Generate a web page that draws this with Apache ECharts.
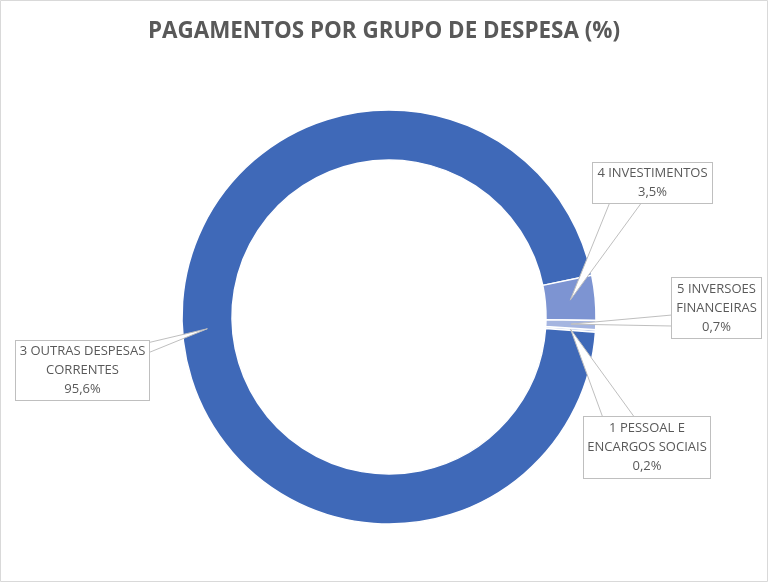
<!DOCTYPE html>
<html>
<head>
<meta charset="utf-8">
<script src="https://cdn.jsdelivr.net/npm/echarts@6/dist/echarts.min.js"></script>
<style>
html,body{margin:0;padding:0;background:#fff;}
#chart{width:768px;height:582px;}
</style>
</head>
<body>
<div id="chart"></div>
<script>
// ---- data ----
const categories = ['1 PESSOAL E\nENCARGOS SOCIAIS', '3 OUTRAS DESPESAS\nCORRENTES', '4 INVESTIMENTOS', '5 INVERSOES\nFINANCEIRAS'];
const values = [0.2, 95.6, 3.5, 0.7];
const titleText = 'PAGAMENTOS POR GRUPO DE DESPESA (%)';

// ---- styles / layout ----
const colors = ['#C3CEEC', '#3F69B8', '#7D94D2', '#A5B5E0'];
const CX = 389, CY = 317, R_IN = 157, R_OUT = 207;
// label box centre, size, and callout base (relative to box centre)
const boxes = [
  {cx: 647, cy: 447.5, w: 128, h: 61, lines: 3, base: [[-44, -29.5], [-12, -29.5]]},
  {cx: 82.5, cy: 370.5, w: 135, h: 59, lines: 3, base: [[66.5, -28], [66.5, -18]]},
  {cx: 652.5, cy: 183, w: 121, h: 40, lines: 2, base: [[-42.5, 19], [-10.5, 19]]},
  {cx: 716.5, cy: 308, w: 91, h: 60, lines: 3, base: [[-44.5, 7], [-44.5, 18]]}
];
const LH = 19;
const FONT = 13;

const chart = echarts.init(document.getElementById('chart'), null, {renderer: 'canvas'});

const ringData = categories.map((name, i) => ({name: name, value: values[i], itemStyle: {color: colors[i]}}));
const labelData = categories.map((name, i) => {
  const b = boxes[i];
  const padV = (b.h - b.lines * LH) / 2;
  return {
    name: name,
    value: values[i],
    label: {width: b.w - 2, padding: [padV, 0, padV, 0]}
  };
});

const pieCommon = {
  type: 'pie',
  center: [CX, CY],
  radius: [R_IN, R_OUT],
  startAngle: -3.5,
  clockwise: true,
  avoidLabelOverlap: false
};

const option = {
  animation: false,
  backgroundColor: '#fff',
  title: {
    text: titleText,
    left: 'center',
    top: 16,
    textStyle: {fontFamily: 'Open Sans', fontWeight: 'bold', fontSize: 22.4, color: '#595959'}
  },
  graphic: [{
    type: 'rect', silent: true, z: 0,
    shape: {x: 0.5, y: 0.5, width: 767, height: 581},
    style: {fill: 'none', stroke: '#D9D9D9', lineWidth: 1}
  }],
  series: [
    Object.assign({}, pieCommon, {
      z: 2,
      itemStyle: {borderColor: '#fff', borderWidth: 1.5},
      label: {show: false},
      labelLine: {show: false},
      data: ringData
    }),
    Object.assign({}, pieCommon, {
      z: 10,
      silent: true,
      itemStyle: {color: 'rgba(0,0,0,0)', borderWidth: 0},
      label: {
        show: true,
        formatter: p => p.name + '\n' + p.value.toFixed(1).replace('.', ',') + '%',
        fontFamily: 'Open Sans',
        fontSize: FONT,
        lineHeight: LH,
        color: '#595959',
        align: 'center',
        backgroundColor: '#fff',
        borderColor: '#BFBFBF',
        borderWidth: 1
      },
      labelLine: {show: false},
      labelLayout: function (params) {
        const b = boxes[params.dataIndex];
        return {x: b.cx, y: b.cy, align: 'center', verticalAlign: 'middle'};
      },
      data: labelData
    })
  ]
};
chart.setOption(option);

// callout pointers: tip at mid-ring, on the mid-angle of each slice from the pie layout
const sData = chart.getModel().getSeriesByIndex(0).getData();
const wedges = [];
for (let i = 0; i < values.length; i++) {
  const L = sData.getItemLayout(i);
  const mid = (L.startAngle + L.endAngle) / 2;
  const rm = (L.r + L.r0) / 2;
  const tip = [L.cx + Math.cos(mid) * rm, L.cy + Math.sin(mid) * rm];
  const b = boxes[i];
  wedges.push({
    type: 'polygon', silent: true, z: 5,
    shape: {points: [
      [b.cx + b.base[0][0], b.cy + b.base[0][1]],
      tip,
      [b.cx + b.base[1][0], b.cy + b.base[1][1]]
    ]},
    style: {fill: '#fff', stroke: '#BFBFBF', lineWidth: 1}
  });
}
chart.setOption({graphic: option.graphic.concat(wedges)});
</script>
</body>
</html>
